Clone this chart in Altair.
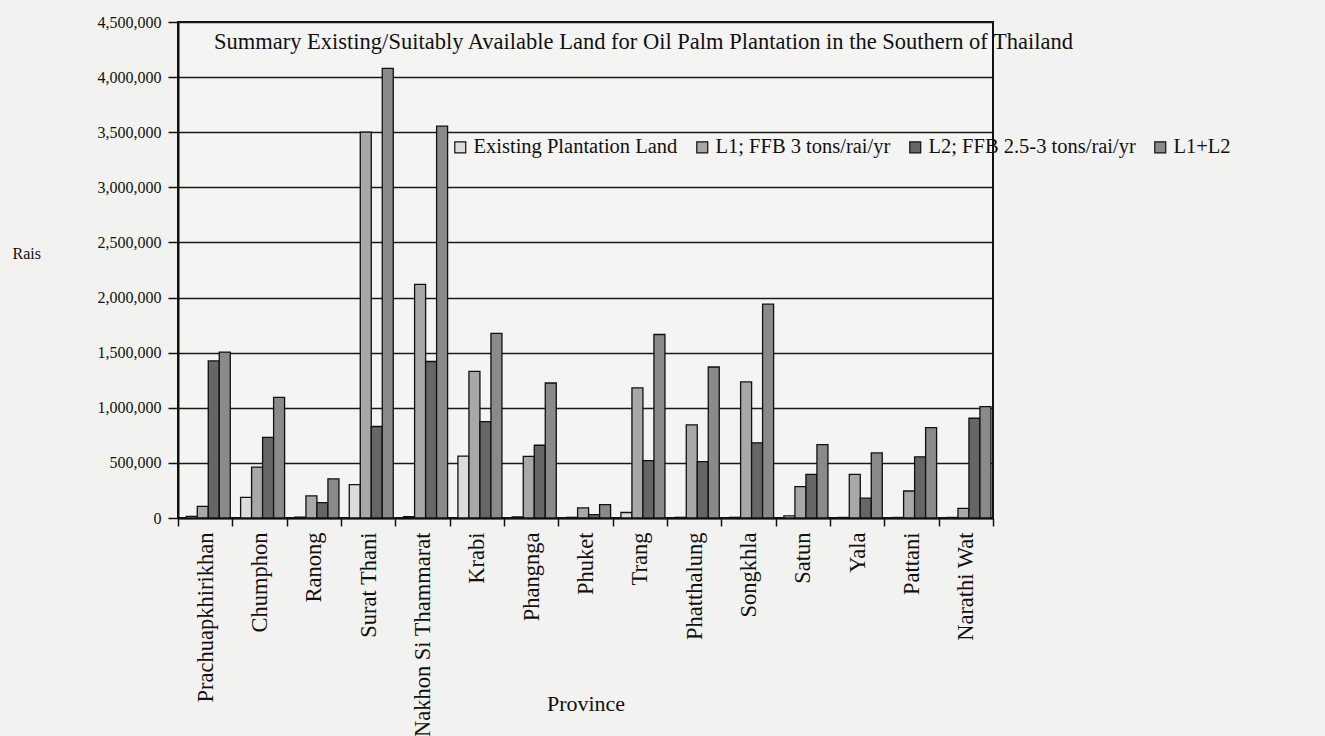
import altair as alt
import pandas as pd

# Provinces of southern Thailand (category axis)
provinces = [
    "Prachuapkhirikhan", "Chumphon", "Ranong", "Surat Thani", "Nakhon Si Thammarat",
    "Krabi", "Phangnga", "Phuket", "Trang", "Phatthalung", "Songkhla", "Satun",
    "Yala", "Pattani", "Narathi Wat",
]

# Land area in rai for each series
existing = [15000, 188000, 8000, 303000, 12000, 562000, 10000, 6000, 50000, 6000, 6000, 20000, 5000, 5000, 5000]
l1 = [105000, 462000, 200000, 3500000, 2120000, 1330000, 560000, 92000, 1180000, 845000, 1235000, 285000, 395000, 245000, 88000]
l2 = [1425000, 732000, 140000, 830000, 1420000, 875000, 660000, 30000, 520000, 512000, 682000, 395000, 180000, 555000, 905000]
l1_l2 = [1505000, 1095000, 355000, 4080000, 3555000, 1675000, 1225000, 122000, 1665000, 1370000, 1940000, 665000, 590000, 820000, 1010000]

series_names = [
    "Existing Plantation Land",
    "L1; FFB 3 tons/rai/yr",
    "L2; FFB 2.5-3 tons/rai/yr",
    "L1+L2",
]
series_colors = ["#dcdcdc", "#a8a8a8", "#666666", "#8a8a8a"]
y_ticks = list(range(0, 4500001, 500000))

title_text = "Summary Existing/Suitably Available Land for Oil Palm Plantation in the Southern of Thailand"

rows = []
for name, values in zip(series_names, [existing, l1, l2, l1_l2]):
    for prov, v in zip(provinces, values):
        rows.append({"province": prov, "series": name, "value": v})
df = pd.DataFrame(rows)

SERIF = "Liberation Serif"
INK = "#111111"
W, H = 815, 496

bars = alt.Chart(df).mark_bar(stroke=INK, strokeWidth=1.3).encode(
    x=alt.X(
        "province:N",
        sort=provinces,
        scale=alt.Scale(paddingInner=0, paddingOuter=0),
        axis=alt.Axis(
            title="Province",
            labelAngle=-90,
            labelAlign="right",
            labelBaseline="middle",
            labelFont=SERIF,
            labelFontSize=22.5,
            labelColor=INK,
            labelPadding=6,
            labelLimit=0,
            tickBand="extent",
            tickSize=8,
            tickColor=INK,
            tickWidth=1.5,
            domainColor=INK,
            domainWidth=2,
            titleFont=SERIF,
            titleFontSize=22,
            titleFontWeight="normal",
            titleColor=INK,
            titleY=185,
            titleBaseline="middle",
        ),
    ),
    xOffset=alt.XOffset(
        "series:N",
        sort=series_names,
        scale=alt.Scale(paddingInner=0, paddingOuter=0.47, align=0.8),
    ),
    y=alt.Y(
        "value:Q",
        scale=alt.Scale(domain=[0, 4500000], nice=False),
        axis=alt.Axis(
            title="Rais",
            titleAngle=0,
            titleX=-166,
            titleY=231,
            titleAlign="left",
            titleBaseline="middle",
            titleFont=SERIF,
            titleFontSize=16,
            titleFontWeight="normal",
            titleColor=INK,
            values=y_ticks,
            format=",d",
            labelFont=SERIF,
            labelFontSize=16,
            labelColor=INK,
            labelPadding=7,
            tickSize=10,
            tickColor=INK,
            tickWidth=1.5,
            domainColor=INK,
            domainWidth=2,
            grid=True,
            gridColor="#1a1a1a",
            gridWidth=1.4,
        ),
    ),
    fill=alt.Fill(
        "series:N",
        sort=series_names,
        scale=alt.Scale(domain=series_names, range=series_colors),
        legend=alt.Legend(
            title=None,
            orient="none",
            direction="horizontal",
            legendX=272,
            legendY=115,
            symbolType="square",
            symbolSize=120,
            symbolStrokeColor=INK,
            symbolStrokeWidth=1.2,
            symbolOpacity=1,
            labelFont=SERIF,
            labelFontSize=20.5,
            labelColor=INK,
            labelLimit=0,
            labelOffset=3,
            columnPadding=14,
        ),
    ),
)

title = alt.Chart(pd.DataFrame({"t": [title_text]})).mark_text(
    align="left", baseline="middle", font=SERIF, fontSize=22.5, color=INK
).encode(x=alt.value(36), y=alt.value(20), text="t:N")

chart = alt.layer(bars, title).properties(
    width=W,
    height=H,
    background="#f2f2f0",
    autosize=alt.AutoSizeParams(type="none"),
    padding={"left": 178, "top": 22, "right": 332, "bottom": 218},
).configure_view(stroke=INK, strokeWidth=2, fill="#f4f4f2")

chart.save("out.html", embed_options={"renderer": "svg", "actions": False})
